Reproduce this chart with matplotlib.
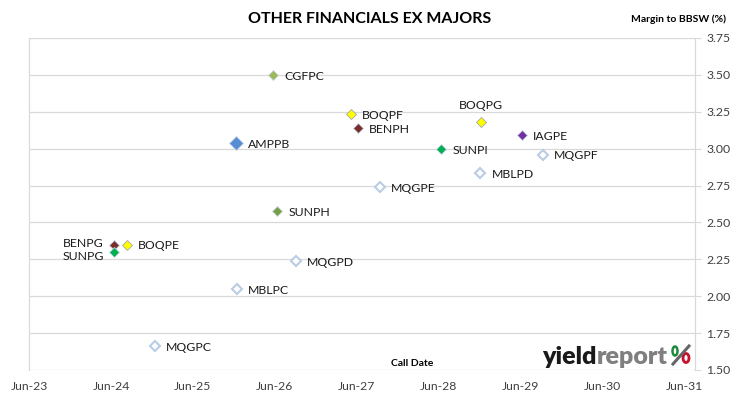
import matplotlib
matplotlib.use("Agg")
import matplotlib.pyplot as plt
import matplotlib.dates as mdates
from matplotlib.patches import Ellipse
from matplotlib.lines import Line2D
import pandas as pd

plt.rcParams['font.family'] = ['Lato', 'DejaVu Sans']

names = ["CGFPC", "AMPPB", "BOQPF", "BENPH", "BOQPG", "IAGPE", "SUNPI", "MQGPF",
         "MBLPD", "MQGPE", "SUNPH", "BENPG", "BOQPE", "SUNPG", "MQGPD", "MBLPC", "MQGPC"]
call_dates = ["2026-05-25", "2025-12-12", "2027-05-07", "2027-06-07", "2028-12-07",
              "2029-06-07", "2028-06-12", "2029-09-07", "2028-12-03", "2027-09-12",
              "2026-06-12", "2024-06-12", "2024-08-10", "2024-06-15", "2026-09-04",
              "2025-12-15", "2024-12-12"]
margins = [3.50, 3.04, 3.235, 3.14, 3.18, 3.09, 3.00, 2.96,
           2.835, 2.74, 2.58, 2.35, 2.35, 2.30, 2.24, 2.05, 1.66]

fills = {"CGFPC": "#9bbb59", "AMPPB": "#558ed5", "BOQPF": "#ffff00", "BENPH": "#7a2e2a",
         "BOQPG": "#ffff00", "IAGPE": "#7030a0", "SUNPI": "#00b050", "SUNPH": "#77a043",
         "BENPG": "#7a2e2a", "BOQPE": "#ffff00", "SUNPG": "#00b050"}
hollow_edge = "#b9cde5"

x_ticks = pd.date_range("2023-06-01", "2031-06-01", freq="12MS")
x_tick_labels = ["Jun-23", "Jun-24", "Jun-25", "Jun-26", "Jun-27", "Jun-28", "Jun-29", "Jun-30", "Jun-31"]
y_ticks = [1.50, 1.75, 2.00, 2.25, 2.50, 2.75, 3.00, 3.25, 3.50, 3.75]

W, H = 730, 399
fig = plt.figure(figsize=(W / 100, H / 100), dpi=100)
ax = fig.add_axes([29 / W, 1 - 370 / H, (695 - 29) / W, (370 - 38) / H])

dates = pd.to_datetime(call_dates)
for n, d, m in zip(names, dates, margins):
    if n in fills:
        edge = "#a6a6a6" if fills[n] == "#ffff00" else "#c8d4e6"
        ms = 7 if n == "AMPPB" else 5.5
        ax.plot([d], [m], marker="D", ms=ms, mfc=fills[n], mec=edge, mew=0.6,
                linestyle="none", zorder=3)
    else:
        ax.plot([d], [m], marker="D", ms=4.6, mfc="white", mec=hollow_edge, mew=1.5,
                linestyle="none", zorder=3)
    if n in ("BENPG", "SUNPG"):
        dy = -3 if n == "SUNPG" else 1
        ax.annotate(n, (d, m), xytext=(-7, dy), textcoords="offset points",
                    ha="right", va="center", fontsize=8.8, color="#1a1a1a")
    elif n == "BOQPG":
        ax.annotate(n, (d, m), xytext=(0, 12), textcoords="offset points",
                    ha="center", va="center", fontsize=8.8, color="#1a1a1a")
    else:
        ax.annotate(n, (d, m), xytext=(8, -1), textcoords="offset points",
                    ha="left", va="center", fontsize=8.8, color="#1a1a1a")

ax.set_xlim(pd.Timestamp("2023-06-01"), pd.Timestamp("2031-07-18"))
ax.set_ylim(1.50, 3.75)
ax.set_xticks(x_ticks)
ax.set_xticklabels(x_tick_labels)
ax.set_yticks(y_ticks)
ax.set_yticklabels([f"{v:.2f}" for v in y_ticks])
ax.yaxis.tick_right()
ax.tick_params(axis="y", length=4, width=0.8, color="#d9d9d9", pad=4,
               labelsize=8.8, labelcolor="#404040")
ax.tick_params(axis="x", length=0, pad=8, labelsize=8.8, labelcolor="#404040")
ax.grid(axis="y", color="#d9d9d9", linewidth=0.9)
ax.set_axisbelow(True)
for s in ("top", "bottom"):
    ax.spines[s].set_visible(False)
for s in ("left", "right"):
    ax.spines[s].set_color("#d9d9d9")
    ax.spines[s].set_linewidth(0.9)

fig.text(370 / W, 1 - 19 / H, "OTHER FINANCIALS EX MAJORS", ha="center", va="center",
         fontsize=11.5, fontweight="bold", color="black")
fig.text(726 / W, 1 - 19 / H, "Margin to BBSW (%)", ha="right", va="center",
         fontsize=7.5, fontweight="bold", color="black")
fig.text(412 / W, 1 - 363 / H, "Call Date", ha="center", va="center",
         fontsize=7.5, fontweight="bold", color="black")

# logo
t1 = fig.text(542 / W, 1 - 364 / H, "yield", ha="left", va="baseline",
              fontsize=18, fontweight="heavy", color="#1a1a1a")
fig.canvas.draw()
bb = t1.get_window_extent()
t2 = fig.text((bb.x1 + 0.5) / W, 1 - 364 / H, "report", ha="left", va="baseline",
              fontsize=18, fontweight="heavy", color="#7f7f7f")
fig.add_artist(Line2D([673 / W, 689 / W], [1 - 364 / H, 1 - 346 / H],
                      transform=fig.transFigure, color="#666666", lw=2.2))
fig.add_artist(Ellipse((675 / W, 1 - 351 / H), 5 / W, 9 / H, transform=fig.transFigure,
                       facecolor="white", edgecolor="#1e8a3a", lw=1.8))
fig.add_artist(Ellipse((686 / W, 1 - 358 / H), 6 / W, 9 / H, transform=fig.transFigure,
                       facecolor="white", edgecolor="#c8102e", lw=2.0))

fig.savefig("out.png", dpi=100)
